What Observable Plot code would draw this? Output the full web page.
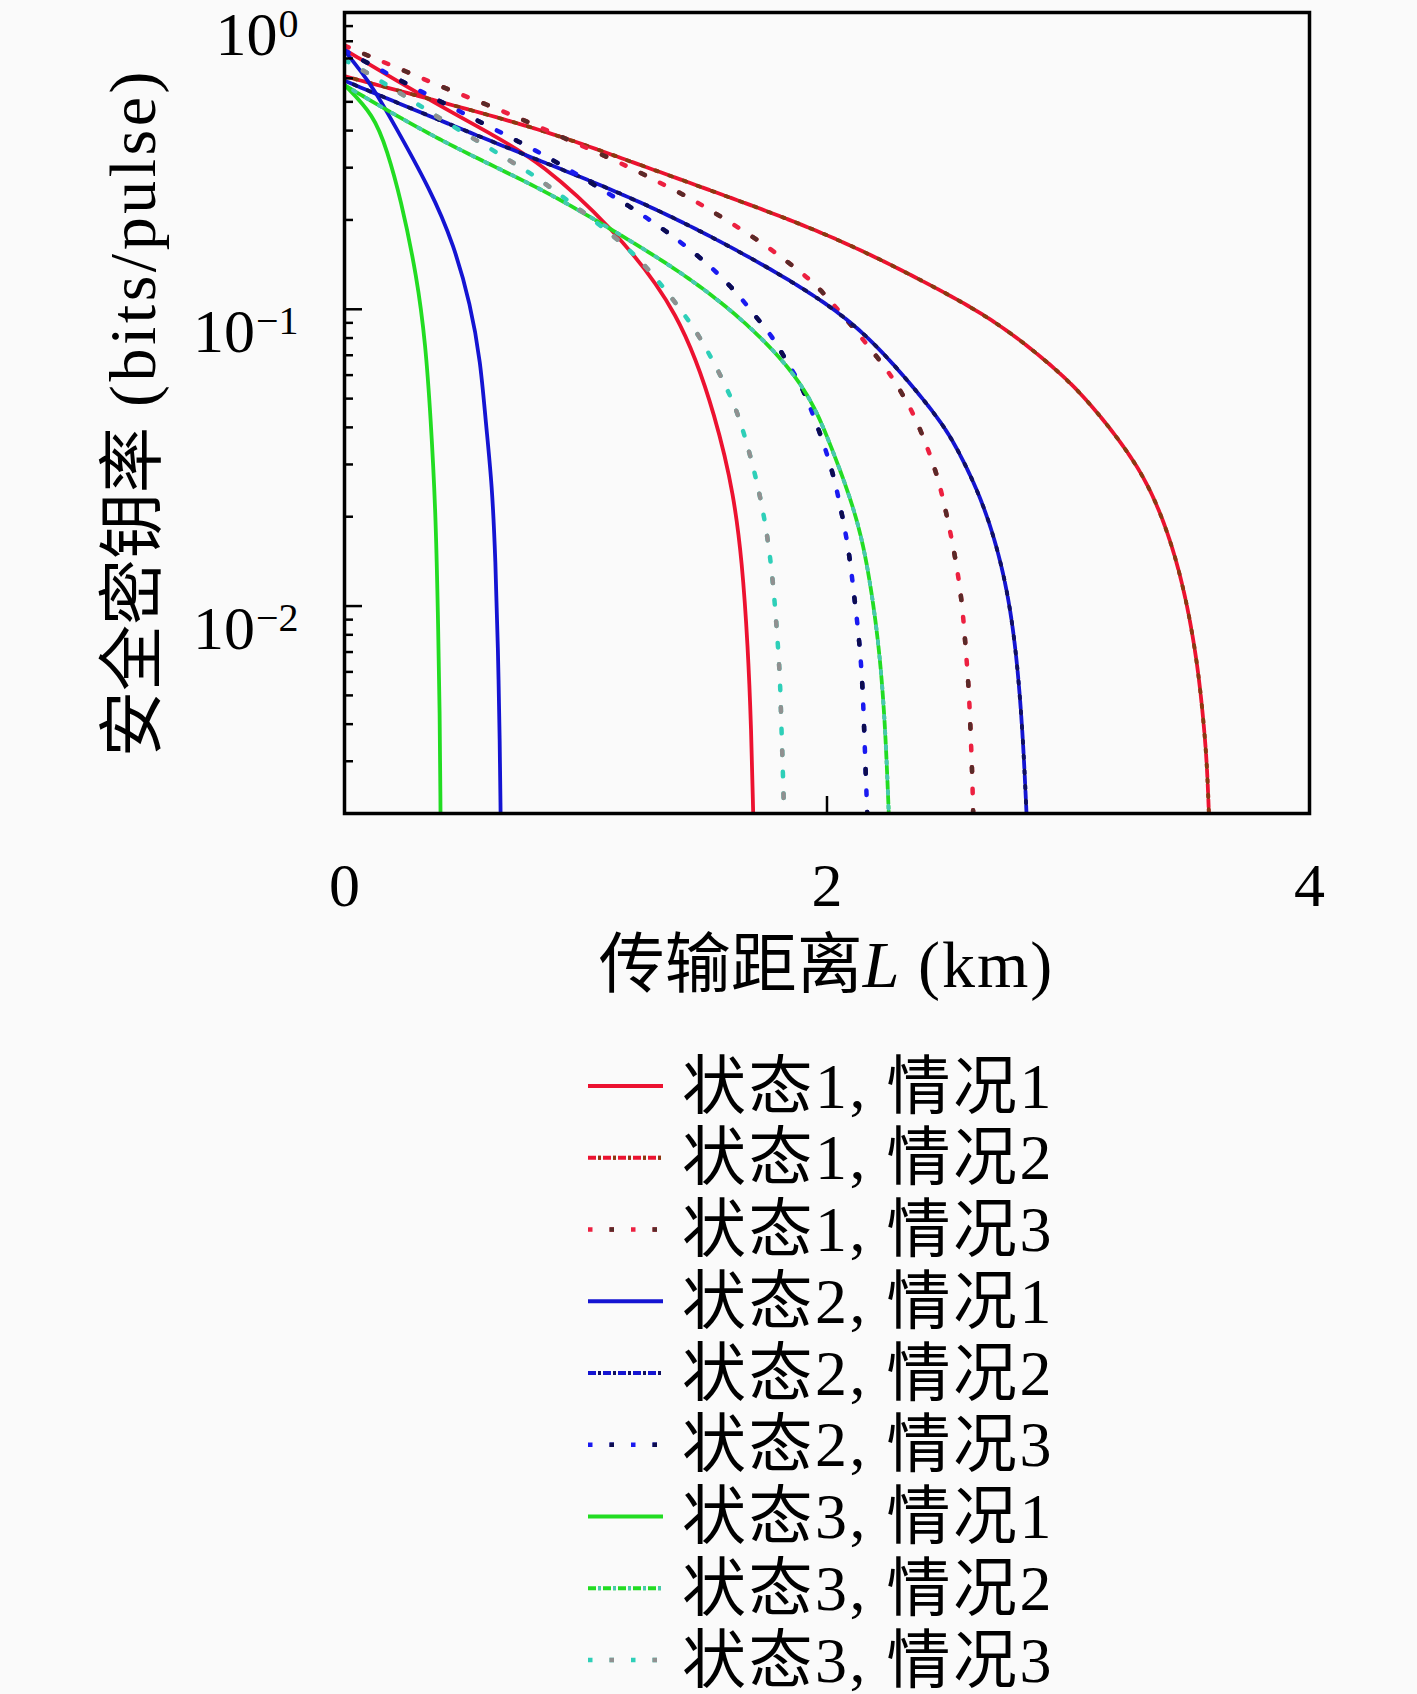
<!DOCTYPE html>
<html>
<head>
<meta charset="utf-8">
<script src="https://cdn.jsdelivr.net/npm/d3@7"></script>
<script src="https://cdn.jsdelivr.net/npm/@observablehq/plot@0.6"></script>
<style>
  html, body { margin: 0; padding: 0; background: #fafafa; }
  #wrap { width: 1417px; height: 1694px; overflow: hidden; background: #fafafa; }
  #wrap svg { display: block; }
</style>
</head>
<body>
<div id="wrap"></div>
<script>
// ---- data (distance L in km, key rate in bits/pulse) ----
const L_s1c1 = [0, 0.343, 0.633, 0.812, 1.10, 1.393, 1.545, 1.614, 1.648, 1.672, 1.686, 1.694];
const R_s1c1 = [0.75, 0.511, 0.380, 0.312, 0.193, 0.0984, 0.0419, 0.0236, 0.0141, 0.00736, 0.00385, 0.002];

const L_s1c2 = [0, 0.398, 0.812, 1.144, 1.503, 2.015, 2.429, 2.705, 2.98, 3.12, 3.258, 3.35, 3.43, 3.49, 3.535, 3.56, 3.575, 3.583];
const R_s1c2 = [0.61, 0.50, 0.405, 0.324, 0.254, 0.179, 0.121, 0.0912, 0.0603, 0.0452, 0.0323, 0.0240, 0.0162, 0.0105, 0.00646, 0.00417, 0.00295, 0.002];

const L_s1c3 = [0, 0.115, 0.273, 0.425, 0.584, 0.743, 0.819, 1.144, 1.295, 1.455, 1.586, 1.745, 1.904, 1.98, 2.243, 2.298, 2.346, 2.388, 2.457, 2.498, 2.533, 2.56, 2.574, 2.588, 2.595, 2.602, 2.606];
const R_s1c3 = [0.773, 0.706, 0.624, 0.552, 0.492, 0.434, 0.407, 0.312, 0.270, 0.232, 0.199, 0.165, 0.131, 0.116, 0.0641, 0.0542, 0.0465, 0.0392, 0.0280, 0.0200, 0.0145, 0.0103, 0.00736, 0.00526, 0.00380, 0.00272, 0.002];

const L_s2c1 = [0, 0.07, 0.122, 0.19, 0.36, 0.453, 0.522, 0.564, 0.585, 0.612, 0.626, 0.636, 0.644, 0.647];
const R_s2c1 = [0.745, 0.631, 0.55, 0.443, 0.25, 0.165, 0.104, 0.0667, 0.0419, 0.0256, 0.0141, 0.00736, 0.00339, 0.002];

const L_s2c2 = [0, 0.398, 0.812, 1.227, 1.641, 2.015, 2.222, 2.443, 2.526, 2.622, 2.692, 2.747, 2.781, 2.802, 2.816, 2.827];
const R_s2c2 = [0.589, 0.432, 0.316, 0.232, 0.157, 0.104, 0.0740, 0.0452, 0.0358, 0.0249, 0.0173, 0.0114, 0.00736, 0.00474, 0.00313, 0.002];

const L_s2c3 = [0, 0.3, 0.641, 0.723, 0.799, 0.875, 1.192, 1.268, 1.351, 1.406, 1.489, 1.565, 1.641, 1.704, 1.773, 1.821, 1.876, 1.918, 2.015, 2.056, 2.09, 2.111, 2.132, 2.146, 2.153, 2.159, 2.166, 2.167];
const R_s2c3 = [0.745, 0.55, 0.397, 0.367, 0.340, 0.315, 0.220, 0.199, 0.179, 0.165, 0.146, 0.128, 0.110, 0.0946, 0.0811, 0.0693, 0.0586, 0.0501, 0.0306, 0.0216, 0.0156, 0.0111, 0.00796, 0.00569, 0.00407, 0.00295, 0.00209, 0.002];

const L_s3c1 = [0, 0.122, 0.177, 0.232, 0.301, 0.336, 0.357, 0.378, 0.387, 0.395, 0.398];
const R_s3c1 = [0.57, 0.452, 0.342, 0.238, 0.128, 0.0760, 0.0435, 0.0208, 0.00955, 0.00439, 0.002];

const L_s3c2 = [0, 0.398, 0.812, 1.116, 1.434, 1.71, 1.918, 2.015, 2.098, 2.153, 2.194, 2.222, 2.242, 2.256];
const R_s3c2 = [0.569, 0.367, 0.257, 0.184, 0.128, 0.0843, 0.0542, 0.0349, 0.0231, 0.0160, 0.0100, 0.00646, 0.00385, 0.002];

const L_s3c3 = [0, 0.08, 0.315, 0.391, 0.633, 0.709, 0.79, 0.868, 1.1, 1.25, 1.40, 1.462, 1.51, 1.558, 1.6, 1.635, 1.69, 1.731, 1.759, 1.779, 1.793, 1.805, 1.810, 1.816, 1.821, 1.822];
const R_s3c3 = [0.692, 0.637, 0.485, 0.441, 0.337, 0.308, 0.281, 0.252, 0.182, 0.141, 0.0984, 0.0832, 0.0711, 0.0601, 0.0508, 0.0436, 0.0306, 0.0219, 0.0160, 0.0114, 0.00813, 0.00582, 0.00417, 0.00295, 0.00215, 0.002];

const seriesNames = ["状态1, 情况1", "状态1, 情况2", "状态1, 情况3",
                     "状态2, 情况1", "状态2, 情况2", "状态2, 情况3",
                     "状态3, 情况1", "状态3, 情况2", "状态3, 情况3"];
const seriesL = [L_s1c1, L_s1c2, L_s1c3, L_s2c1, L_s2c2, L_s2c3, L_s3c1, L_s3c2, L_s3c3];
const seriesR = [R_s1c1, R_s1c2, R_s1c3, R_s2c1, R_s2c2, R_s2c3, R_s3c1, R_s3c2, R_s3c3];

const xTicks = [0, 2, 4];
const yMajor = [1, 0.1, 0.01];
const yMinor = [0.9, 0.8, 0.7, 0.6, 0.5, 0.4, 0.3, 0.2,
                0.09, 0.08, 0.07, 0.06, 0.05, 0.04, 0.03, 0.02,
                0.009, 0.008, 0.007, 0.006, 0.005, 0.004, 0.003];

const xLabel = "传输距离";
const xLabelVar = "L";
const xLabelUnit = " (km)";
const yLabelCJK = "安全密钥率";
const yLabelUnit = " (bits/pulse)";

// ---- styles ----
const stateColor = ["#ec1230", "#1414d2", "#22dc22"];
const case3Color = ["#ec2040", "#1a1af0", "#2ecfb8"];
const overlayColor = ["#5a2a28", "#0c0c50", "#909090"];
const caseOverlay2 = ["#8a3a10", "#101060", "#48c8b0"];
const FONT = "'Liberation Serif', 'Noto Sans CJK SC', serif";

function styleOf(i) {
  const s = Math.floor(i / 3), c = i % 3;
  if (c === 0) return {main: {stroke: stateColor[s], strokeWidth: 3.8}};
  if (c === 1) return {
    main: {stroke: stateColor[s], strokeWidth: 3.8, strokeDasharray: "8,2,3,2"},
    over: {stroke: caseOverlay2[s], strokeWidth: 3.8, strokeDasharray: "3,12", strokeDashoffset: 5}
  };
  return {
    main: {stroke: case3Color[s], strokeWidth: 4.5, strokeDasharray: "4.5,17"},
    over: {stroke: overlayColor[s], strokeWidth: 4.5, strokeDasharray: "4.5,38.5", strokeDashoffset: 21.5}
  };
}

const lineMarks = [];
seriesL.forEach((Ls, i) => {
  const rows = Ls.map((l, j) => ({L: l, R: seriesR[i][j]}));
  const st = styleOf(i);
  lineMarks.push(Plot.line(rows, {x: "L", y: "R", curve: "basis", clip: true, ...st.main}));
  if (st.over) lineMarks.push(Plot.line(rows, {x: "L", y: "R", curve: "basis", clip: true, ...st.over}));
});

const W = 1417, H = 1010;
const mL = 344, mR = 108, mT = 12, mB = 197;
const innerW = W - mL - mR, innerH = H - mT - mB;

const plot = Plot.plot({
  width: W, height: H,
  marginLeft: mL, marginRight: mR, marginTop: mT, marginBottom: mB,
  x: {domain: [0, 4], axis: null},
  y: {type: "log", domain: [0.002, 1], axis: null},
  style: {background: "#fafafa", fontFamily: FONT, color: "#000"},
  marks: [
    ...lineMarks,
    Plot.tickY(yMinor, {y: d => d, insetRight: innerW - 9, stroke: "#000", strokeWidth: 2.5}),
    Plot.tickY(yMajor, {y: d => d, insetRight: innerW - 18, stroke: "#000", strokeWidth: 2.5}),
    Plot.tickX(xTicks, {x: d => d, insetTop: innerH - 17, stroke: "#000", strokeWidth: 2.5}),
    Plot.frame({stroke: "#000", strokeWidth: 3.5}),
    Plot.text(xTicks, {x: d => d, frameAnchor: "bottom", dy: 92, text: d => String(d),
      fontSize: 62, fontFamily: FONT, fill: "#000"}),
    Plot.text(yMajor, {y: d => d, frameAnchor: "left", dx: -46, dy: 23, textAnchor: "end",
      text: d => "10^" + Math.round(Math.log10(d)), fontSize: 62, fontFamily: FONT, fill: "#000"})
  ]
});

const svg = d3.select(plot);
// superscript exponents on the y tick labels
svg.selectAll("text").each(function () {
  const m = /^10\^(-?\d+)$/.exec(this.textContent);
  if (!m) return;
  const t = d3.select(this);
  t.text(null);
  t.append("tspan").text("10");
  t.append("tspan").attr("font-size", 40).attr("dy", -18).attr("dx", 1)
    .text(m[1].replace("-", "\u2212"));
});

// axis titles
const yl = svg.append("text")
  .attr("transform", `translate(132,${mT + innerH / 2}) rotate(-90)`)
  .attr("text-anchor", "middle").attr("dominant-baseline", "central")
  .attr("font-family", FONT).attr("font-size", 66).attr("fill", "#000");
yl.append("tspan").text(yLabelCJK);
yl.append("tspan").attr("letter-spacing", 3.5).text(yLabelUnit);

const xl = svg.append("text")
  .attr("x", mL + innerW / 2).attr("y", 964)
  .attr("text-anchor", "middle").attr("dominant-baseline", "central")
  .attr("font-family", FONT).attr("font-size", 66).attr("fill", "#000");
xl.append("tspan").text(xLabel);
xl.append("tspan").attr("font-style", "italic").text(xLabelVar);
xl.append("tspan").attr("letter-spacing", 2).text(xLabelUnit);

document.getElementById("wrap").appendChild(plot);

// ---- legend below the chart ----
const legH = 1694 - H;
const leg = d3.create("svg").attr("width", W).attr("height", legH)
  .style("background", "#fafafa");
seriesNames.forEach((name, i) => {
  const y = 76 + i * 71.75;
  const st = styleOf(i);
  const addLine = (o) => {
    const ln = leg.append("line").attr("x1", 588).attr("x2", 663).attr("y1", y).attr("y2", y)
      .attr("stroke", o.stroke).attr("stroke-width", o.strokeWidth);
    if (o.strokeDasharray) ln.attr("stroke-dasharray", o.strokeDasharray);
    if (o.strokeDashoffset) ln.attr("stroke-dashoffset", o.strokeDashoffset);
  };
  addLine(st.main);
  if (st.over) addLine(st.over);
  leg.append("text").attr("x", 682).attr("y", y)
    .attr("dominant-baseline", "central").attr("letter-spacing", 2.5)
    .attr("font-family", FONT).attr("font-size", 64).attr("fill", "#000")
    .text(name);
});
document.getElementById("wrap").appendChild(leg.node());
</script>
</body>
</html>
